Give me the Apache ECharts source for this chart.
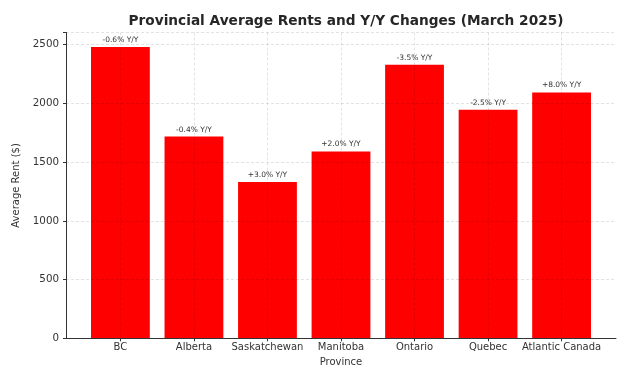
<!DOCTYPE html>
<html>
<head>
<meta charset="utf-8">
<script src="https://cdn.jsdelivr.net/npm/echarts@6/dist/echarts.min.js"></script>
<style>html,body{margin:0;padding:0;background:#fff}#c{width:622px;height:367px}</style>
</head>
<body>
<div id="c"></div>
<script>
const categories = ['BC', 'Alberta', 'Saskatchewan', 'Manitoba', 'Ontario', 'Quebec', 'Atlantic Canada'];
const rents = [2480, 1718, 1332, 1591, 2330, 1946, 2094];
const changes = ['-0.6% Y/Y', '-0.4% Y/Y', '+3.0% Y/Y', '+2.0% Y/Y', '-3.5% Y/Y', '-2.5% Y/Y', '+8.0% Y/Y'];
const yTicks = [0, 500, 1000, 1500, 2000, 2500];

const positions = categories.map((_, i) => i);
const font = 'DejaVu Sans';
const chart = echarts.init(document.getElementById('c'));
chart.setOption({
  animation: false,
  backgroundColor: '#fff',
  title: {
    text: 'Provincial Average Rents and Y/Y Changes (March 2025)',
    left: 341, top: 9, textAlign: 'center',
    textStyle: { fontFamily: font, fontSize: 13.7, fontWeight: 'bold', color: '#262626' }
  },
  grid: { left: 66, right: 6, top: 32.5, bottom: 28.7, containLabel: false, outerBoundsMode: 'none' },
  xAxis: {
    type: 'value', min: -0.74, max: 6.74, z: 3,
    name: 'Province', nameLocation: 'middle', nameGap: 17,
    nameTextStyle: { fontFamily: font, fontSize: 10, color: '#333' },
    axisLine: { show: true, onZero: false, lineStyle: { color: '#333', width: 1 } },
    axisTick: { show: true, customValues: positions, length: 3, lineStyle: { color: '#333' } },
    axisLabel: { customValues: positions, formatter: v => categories[Math.round(v)], fontFamily: font, fontSize: 10, color: '#333', margin: 4 },
    splitLine: { show: true, lineStyle: { color: 'rgba(0,0,0,0.14)', type: [3, 2], width: 0.8 } }
  },
  yAxis: {
    type: 'value', min: 0, max: 2604, interval: 500, z: 3,
    name: 'Average Rent ($)', nameLocation: 'middle', nameGap: 37,
    nameTextStyle: { fontFamily: font, fontSize: 10, color: '#333' },
    axisLine: { show: true, onZero: false, lineStyle: { color: '#333', width: 1 } },
    axisTick: { show: true, length: 3, lineStyle: { color: '#333' } },
    axisLabel: { fontFamily: font, fontSize: 10.3, color: '#333', margin: 7,
      customValues: yTicks, formatter: v => String(v) },
    splitLine: { show: true, lineStyle: { color: 'rgba(0,0,0,0.14)', type: [3, 2], width: 0.8 } }
  },
  series: [{
    type: 'bar',
    data: rents.map((v, i) => [positions[i], v]),
    barWidth: 58.8,
    itemStyle: { color: '#ff0000' },
    label: {
      show: true, position: 'top', distance: 3,
      formatter: p => changes[p.dataIndex],
      fontFamily: font, fontSize: 7.5, color: '#333'
    }
  }]
});
</script>
</body>
</html>
